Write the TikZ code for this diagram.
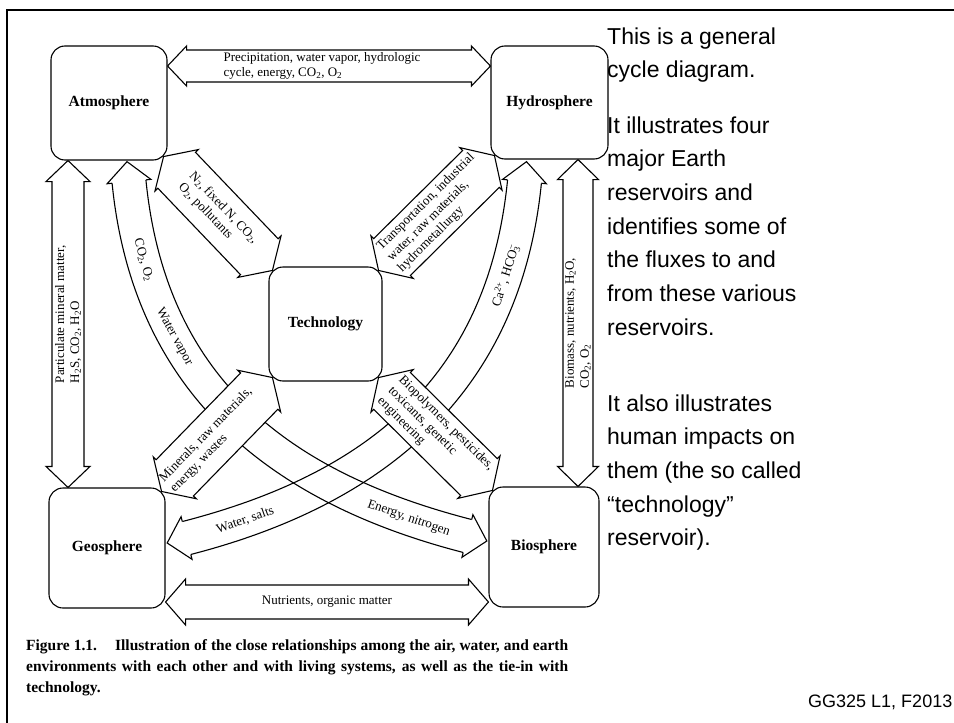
\documentclass[tikz,border=0pt]{standalone}
\usepackage{fontspec}
\setmainfont{Liberation Serif}
\newfontfamily\arialf{Liberation Sans}
\usetikzlibrary{calc}
\pgfdeclarelayer{back}
\pgfdeclarelayer{bg}
\pgfsetlayers{back,bg,main}
\newcommand\DArrow[5]{%
  \draw[arr] (#1) -- ($(#1)!#5!(#2)!#4!90:(#2)$) -- ($(#1)!#5!(#2)!#3!90:(#2)$)
   -- ($(#2)!#5!(#1)!#3!-90:(#1)$) -- ($(#2)!#5!(#1)!#4!-90:(#1)$) -- (#2)
   -- ($(#2)!#5!(#1)!#4!90:(#1)$) -- ($(#2)!#5!(#1)!#3!90:(#1)$)
   -- ($(#1)!#5!(#2)!#3!-90:(#2)$) -- ($(#1)!#5!(#2)!#4!-90:(#2)$) -- cycle;}
\newcommand\BHead[2]{%
  \draw[arr] ($(#1)!17pt!90:(#2)$) -- ($(#1)!22pt!90:(#2)$) -- ($(#1)!-20pt!(#2)$)
   -- ($(#1)!22pt!-90:(#2)$) -- ($(#1)!17pt!-90:(#2)$);}
% offset edge of a cubic band (Tiller--Hanson)
\newcommand\OffCurve[6]{%
  \coordinate (#6a) at ($(#1)!#5!90:(#2)$);
  \coordinate (#6b) at ($(#2)!#5!-90:(#1)$);
  \coordinate (#6c) at ($(#2)!#5!90:(#3)$);
  \coordinate (#6d) at ($(#3)!#5!-90:(#2)$);
  \coordinate (#6e) at ($(#3)!#5!90:(#4)$);
  \coordinate (#6f) at ($(#4)!#5!-90:(#3)$);
  \coordinate (#6g) at (intersection of #6a--#6b and #6c--#6d);
  \coordinate (#6h) at (intersection of #6c--#6d and #6e--#6f);
  \draw[edge] (#6a) .. controls (#6g) and (#6h) .. (#6f);}
\begin{document}
\begin{tikzpicture}[x=1pt,y=-1pt,
  box/.style={draw, line width=1.1pt, rounded corners=14pt, fill=white, inner sep=0pt,
    font=\fontsize{15.5}{17}\selectfont\bfseries},
  arr/.style={draw, line width=1.1pt, fill=white, line join=miter},
  edge/.style={draw, line width=1.1pt},
  lab/.style={inner sep=0pt, align=left, font=\fontsize{13}{15}\selectfont},
  rtext/.style={inner sep=0pt, anchor=base west, font=\arialf\fontsize{23}{33.7}\selectfont},
]
\useasboundingbox (0,0) rectangle (954,723);
\begin{pgfonlayer}{back}
\fill[white] (0,0) rectangle (954,723);
\end{pgfonlayer}
\draw[line width=2pt] (7,740) -- (7,10) -- (970,10);

% reservoirs
\node[box, minimum width=116pt, minimum height=114pt] (atm) at (109,103) {Atmosphere};
\node[box, minimum width=117pt, minimum height=113pt] (hyd) at (549.5,102.5) {Hydrosphere};
\node[box, minimum width=113pt, minimum height=114pt] (tech) at (325.5,324) {Technology};
\node[box, minimum width=116pt, minimum height=120pt] (geo) at (107,548) {Geosphere};
\node[box, minimum width=110pt, minimum height=120pt] (bio) at (544,547) {Biosphere};

\begin{pgfonlayer}{bg}
% curved bands
\coordinate (bA0) at ($(atm.south)+(20,21)$);
\coordinate (bA3) at ($(bio.west)+(-21,-11)$);
\coordinate (bA1) at ($(bA0)+(20,200)$);
\coordinate (bA2) at ($(bA3)+(-194,-50)$);
\coordinate (bB0) at ($(hyd.south)+(-25,22)$);
\coordinate (bB3) at ($(geo.east)+(21,-10)$);
\coordinate (bB1) at ($(bB0)+(-20,200)$);
\coordinate (bB2) at ($(bB3)+(194,-50)$);
\OffCurve{bA0}{bA1}{bA2}{bA3}{17pt}{eAp}
\OffCurve{bA0}{bA1}{bA2}{bA3}{-17pt}{eAm}
\OffCurve{bB0}{bB1}{bB2}{bB3}{17pt}{eBp}
\OffCurve{bB0}{bB1}{bB2}{bB3}{-17pt}{eBm}
\path (bA0) .. controls (bA1) and (bA2) .. (bA3)
  node[pos=0.14, sloped, lab] {CO\textsubscript{2}, O\textsubscript{2}}
  node[pos=0.3, sloped, lab] {Water vapor}
  node[pos=0.895, sloped, lab] {Energy, nitrogen};
\path (bB0) .. controls (bB1) and (bB2) .. (bB3)
  node[pos=0.17, sloped, lab] {Ca\textsuperscript{2+}, HCO\rlap{\textsubscript{3}}\textsuperscript{−}}
  node[pos=0.895, sloped, lab] {Water, salts};
\BHead{bA0}{bA1}
\BHead{bA3}{bA2}
\BHead{bB0}{bB1}
\BHead{bB3}{bB2}

% straight arrows
\coordinate (ty) at (0,66);
\coordinate (by) at (0,602);
\coordinate (lx) at (68,0);
\coordinate (rx) at (578,0);
\coordinate (ta) at (atm.east |- ty);
\coordinate (tb) at (hyd.west |- ty);
\DArrow{ta}{tb}{16pt}{20pt}{19pt}
\path (ta) -- (tb) node[midway, xshift=-7pt, lab] {Precipitation, water vapor, hydrologic\\cycle, energy, CO\textsubscript{2}, O\textsubscript{2}};

\coordinate (ba) at (geo.east |- by);
\coordinate (bb) at (bio.west |- by);
\DArrow{ba}{bb}{17pt}{23pt}{20pt}
\path (ba) -- (bb) node[midway, lab] {Nutrients, organic matter};

\coordinate (la) at (atm.south -| lx);
\coordinate (lb) at (geo.north -| lx);
\DArrow{la}{lb}{16pt}{22pt}{21pt}
\path (la) -- (lb) node[pos=0.47, rotate=90, lab] {Particulate mineral matter,\\H\textsubscript{2}S, CO\textsubscript{2}, H\textsubscript{2}O};

\coordinate (ra) at (hyd.south -| rx);
\coordinate (rb) at (bio.north -| rx);
\DArrow{ra}{rb}{15pt}{20.5pt}{20pt}
\path (ra) -- (rb) node[pos=0.5, rotate=90, lab] {Biomass, nutrients, H\textsubscript{2}O,\\CO\textsubscript{2}, O\textsubscript{2}};

\coordinate (d1a) at ($(atm.south east)+(-4,-4)$);
\coordinate (d1b) at ($(tech.north west)+(4,4)$);
\DArrow{d1a}{d1b}{26pt}{30pt}{19pt}
\path (d1a) -- (d1b) node[midway, sloped, lab] {N\textsubscript{2}, fixed N, CO\textsubscript{2},\\O\textsubscript{2}, pollutants};

\coordinate (d2a) at ($(tech.north east)+(-4,4)$);
\coordinate (d2b) at ($(hyd.south west)+(4,-4)$);
\DArrow{d2a}{d2b}{26pt}{30pt}{19pt}
\path (d2a) -- (d2b) node[midway, sloped, lab] {Transportation, industrial\\water, raw materials,\\hydrometallurgy};

\coordinate (d3a) at ($(geo.north east)+(-4,4)$);
\coordinate (d3b) at ($(tech.south west)+(4,-4)$);
\DArrow{d3a}{d3b}{26pt}{30pt}{19pt}
\path (d3a) -- (d3b) node[pos=0.45, sloped, lab] {Minerals, raw materials,\\energy, wastes};

\coordinate (d4a) at ($(tech.south east)+(-4,-4)$);
\coordinate (d4b) at ($(bio.north west)+(4,4)$);
\DArrow{d4a}{d4b}{26pt}{30pt}{19pt}
\path (d4a) -- (d4b) node[midway, sloped, lab] {Biopolymers, pesticides,\\toxicants, genetic\\engineering};
\end{pgfonlayer}

% caption
\node[anchor=base west, inner sep=0pt, font=\fontsize{15.5}{21}\selectfont\bfseries] (cap) at (26,650)
 {\parbox[t]{542pt}{\makebox[542pt][s]{Figure 1.1.\hspace{0.8em} Illustration of the close relationships among the air, water, and earth}\\
 \makebox[542pt][s]{environments with each other and with living systems, as well as the tie-in with}\\
 technology.}};

% slide text
\node[rtext] (p1) at (607,44) {\parbox[t]{345pt}{This is a general\\cycle diagram.}};
\node[rtext] (p2) at (607,133) {\parbox[t]{345pt}{It illustrates four\\major Earth\\reservoirs and\\identifies some of\\the fluxes to and\\from these various\\reservoirs.}};
\node[rtext] (p3) at (607,411) {\parbox[t]{345pt}{It also illustrates\\human impacts on\\them (the so called\\“technology”\\reservoir).}};
\node[anchor=base west, inner sep=0pt, font=\arialf\fontsize{18}{20}\selectfont] (ft) at (808,707) {GG325 L1, F2013};
\end{tikzpicture}
\end{document}
